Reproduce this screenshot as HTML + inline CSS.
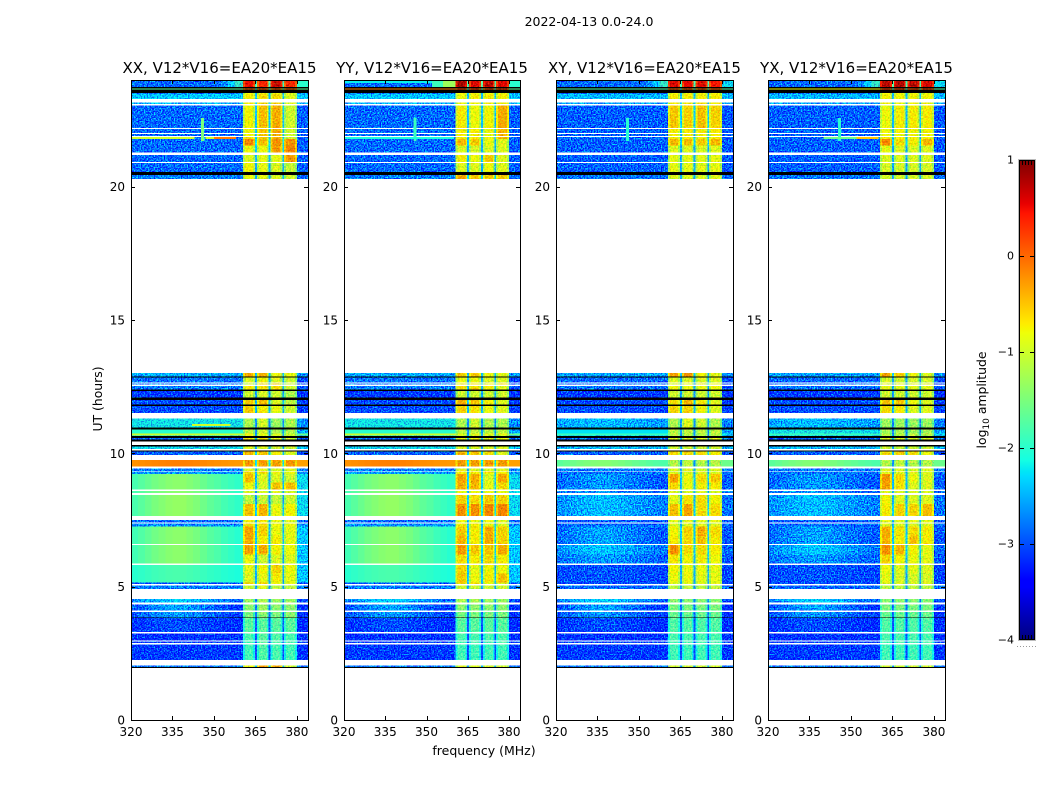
<!DOCTYPE html>
<html lang="en">
<head>
<meta charset="utf-8">
<title>2022-04-13 0.0-24.0</title>
<style>
html,body{margin:0;padding:0;background:#fff;width:1050px;height:800px;overflow:hidden}
svg{display:block}
text{font-family:"DejaVu Sans","Liberation Sans",sans-serif;fill:#000}
</style>
</head>
<body>
<svg id="chart" xmlns="http://www.w3.org/2000/svg" width="1050" height="800" viewBox="0 0 1050 800">
  <defs>
    <filter id="grain" filterUnits="userSpaceOnUse" x="0" y="0" width="1050" height="800" color-interpolation-filters="sRGB">
      <feTurbulence type="fractalNoise" baseFrequency="0.7" numOctaves="2" seed="4" result="n"/>
      <feColorMatrix in="n" type="matrix" values="0 0 0 0 .5  2.4 0 0 0 -.76  0 0 0 0 .5  0 0 0 0 1" result="c"/>
      <feComposite in="SourceGraphic" in2="c" operator="arithmetic" k1="0" k2="1" k3="1" k4="-.5" result="m"/>
      <feComposite in="m" in2="SourceAlpha" operator="in"/>
    </filter>
    <filter id="grainBand" filterUnits="userSpaceOnUse" x="0" y="0" width="1050" height="800" color-interpolation-filters="sRGB">
      <feTurbulence type="fractalNoise" baseFrequency="0.6" numOctaves="2" seed="9" result="n"/>
      <feColorMatrix in="n" type="matrix" values="1 0 0 0 0  0 .7 0 0 .15  0 0 0 0 .5  0 0 0 0 1" result="c"/>
      <feComposite in="SourceGraphic" in2="c" operator="arithmetic" k1="0" k2="1" k3="1" k4="-.5" result="m"/>
      <feComposite in="m" in2="SourceAlpha" operator="in"/>
    </filter>
  </defs>
  <text x="589" y="26" font-size="12.5" text-anchor="middle">2022-04-13 0.0-24.0</text>
  <text x="0" y="0" font-size="12.4" text-anchor="middle" transform="translate(102,399) rotate(-90)">UT (hours)</text>
  <text x="484" y="755" font-size="12.5" text-anchor="middle">frequency (MHz)</text>
  <text x="0" y="0" font-size="12.4" text-anchor="middle" transform="translate(986,400) rotate(-90)">log<tspan dy="3" font-size="9">10</tspan><tspan dy="-3"> amplitude</tspan></text>
</svg>
<script>
// ---- Axis data
const panelTitles = ["XX, V12*V16=EA20*EA15","YY, V12*V16=EA20*EA15","XY, V12*V16=EA20*EA15","YX, V12*V16=EA20*EA15"];
const xTicks = [320,335,350,365,380];
const yTicks = [0,5,10,15,20];
const colorTicks = [-4,-3,-2,-1,0,1];

// ---- Frequency structure (MHz)
const bgFreqEdges = [320,322.5,325,327.5,330,332.5,335,337.5,340,342.5,345,347.5,350,352.5,355,357.5,360.5];
const bumpShape = [.3,.45,.6,.75,.85,.95,1,1,.9,.8,.65,.5,.4,.25,.15,.05];
const rampShape = [0,0,0,0,0,0,0,0,0,0,0,0,0,.2,.5,.85];
const bandFreqEdges = [[360.5,364.8],[365.5,369.8],[370.5,374.8],[375.3,380]];
const gapFreqEdges = [[364.8,365.5],[369.8,370.5],[374.8,375.3]];
const edgeFreqRange = [380,384];

// ---- Time bins (UT hours): [top, bottom]
const dataBins = [
[24,23.74],[23.68,23.64],[23.52,23.47],[23.47,23.28],[23.15,23.1],[23.04,22.2],[22.16,22.01],[21.97,21.9],[21.86,21.79],[21.79,21.55],
[21.55,21.28],[21.19,20.93],[20.89,20.55],[20.43,20.29],[13.01,12.89],[12.85,12.66],[12.62,12.58],[12.52,12.4],[12.34,12.1],[12,11.83],
[11.77,11.51],[11.31,10.97],[10.9,10.75],[10.75,10.67],[10.67,10.65],[10.57,10.52],[10.26,10.16],[10.07,9.94],[9.75,9.5],[9.44,9.34],
[9.31,9.22],[9.22,8.9],[8.9,8.65],[8.59,8.52],[8.44,8.1],[8.1,7.65],[7.5,7.4],[7.37,7.25],[7.25,6.9],[6.9,6.6],
[6.56,6.2],[6.2,5.87],[5.82,5.5],[5.5,5.15],[5.15,5.1],[5.05,4.91],[4.54,4.4],[4.34,4.11],[4.05,3.85],[3.82,3.3],
[3.24,2.98],[2.94,2.88],[2.84,2.25],[2.05,1.99]];
const blackBins = [[23.74,23.68],[23.64,23.52],[20.55,20.43],[12.89,12.85],[12.4,12.34],[12.1,12],[11.83,11.77],[10.97,10.9],[10.65,10.57],[10.52,10.45],[10.31,10.26],[10.1,10.07],[3.85,3.82],[1.99,1.95]];

// ---- Background log10 amplitude per data bin: [level, bump, right edge, ramp]
const parallelBg = [
[-2.8,0,-2,1],[-1.7,0,-1.7,0],[-2.7,0,-2.5,0],[-2.3,0,-2.3,0],[-2.4,0,-2.4,0],[-2.8,0,-2.85,0],[-2.8,0,-2.85,0],[-2.8,0,-2.85,0],[-2.75,0,-2.85,0],[-2.8,0,-2.85,0],
[-2.8,0,-2.85,0],[-2.8,0,-2.85,0],[-2.8,0,-2.85,0],[-2.7,0,-2.8,0],[-2.45,0,-2.6,0],[-2.75,0,-2.95,0],[-2.7,0,-2.9,0],[-2.7,0,-2.9,0],[-3.05,0,-3.1,0],[-2.95,0,-3.05,0],
[-2.95,0,-3,0],[-2.15,0,-2.6,0],[-2,0,-2.5,0],[-1,0,-1.6,0],[-2.2,0,-2.5,0],[-2.8,0,-2.8,0],[-2.2,0,-2.3,0],[-2.85,0,-2.95,0],[-.27,.15,-.3,0],[-2.7,0,-2.7,0],
[-2.55,0,-2.55,0],[-2,.6,-2.2,0],[-2,.6,-2.2,0],[-2,.6,-2.2,0],[-2,.65,-2.2,0],[-2,.65,-2.2,0],[-2.8,0,-2.8,0],[-2.6,0,-2.6,0],[-2.05,.65,-2.3,0],[-2.05,.65,-2.3,0],
[-2.05,.65,-2.3,0],[-2.05,.65,-2.3,0],[-2.1,.3,-2.3,0],[-2.1,.3,-2.3,0],[-2.9,0,-2.9,0],[-2.7,0,-2.7,0],[-2.85,.6,-2.95,0],[-3.1,.6,-3.1,0],[-3.05,.5,-3.1,0],[-3.15,.2,-3.15,0],
[-3.1,0,-3.1,0],[-3,0,-3,0],[-3.05,0,-3.1,0],[-2.7,0,-2.7,0]];
const crossBg = [
[-2.8,0,-2.2,1],[-1.8,0,-1.8,0],[-2.7,0,-2.5,0],[-2.4,0,-2.4,0],[-2.5,0,-2.5,0],[-2.85,0,-2.9,0],[-2.85,0,-2.9,0],[-2.85,0,-2.9,0],[-2.8,0,-2.9,0],[-2.85,0,-2.9,0],
[-2.85,0,-2.9,0],[-2.85,0,-2.9,0],[-2.85,0,-2.9,0],[-2.75,0,-2.8,0],[-2.5,0,-2.6,0],[-2.8,0,-2.95,0],[-2.75,0,-2.9,0],[-2.75,0,-2.9,0],[-3.05,0,-3.1,0],[-2.95,0,-3.05,0],
[-2.95,0,-3,0],[-2.55,.2,-2.7,0],[-2.2,.1,-2.5,0],[-1.9,0,-2.2,0],[-2.4,0,-2.6,0],[-2.8,0,-2.8,0],[-2.4,0,-2.4,0],[-2.85,0,-2.95,0],[-1.8,.35,-1.6,0],[-2.7,0,-2.7,0],
[-2.75,0,-2.75,0],[-2.9,.35,-2.85,0],[-2.9,.35,-2.85,0],[-2.85,.3,-2.8,0],[-2.7,.35,-2.75,0],[-2.7,.35,-2.75,0],[-2.9,0,-2.9,0],[-2.8,0,-2.8,0],[-2.9,.4,-2.9,0],[-2.9,.4,-2.9,0],
[-2.75,.45,-2.8,0],[-2.85,.3,-2.9,0],[-3,.1,-3,0],[-3,.1,-3,0],[-2.95,0,-2.95,0],[-2.8,0,-2.8,0],[-2.85,.6,-2.95,0],[-3.1,.6,-3.1,0],[-3.05,.5,-3.1,0],[-3.15,.2,-3.15,0],
[-3.1,0,-3.1,0],[-3,0,-3,0],[-3.05,0,-3.1,0],[-2.7,0,-2.7,0]];

// ---- Sub-band log10 amplitude per data bin: [A, B, C, D]
const bandsXX = [
[.5,.35,.7,.35],[.1,.1,.1,.1],[-.8,-.8,-.8,-.9],[-.7,-.6,-.6,-.9],[-.7,-.6,-.6,-.9],[-.75,-.45,-.35,-1],[-.75,-.5,-.35,-1],[-.75,-.5,-.35,-1],[-.6,-.5,-.35,-1],[-.15,-.45,-.2,-.2],
[-.8,-.8,-.25,-.15],[-.9,-.85,-.85,-.25],[-.75,-.85,-.9,-1.05],[-.8,-.85,-.9,-1],[-.35,-.4,-.8,-.8],[-.9,-.75,-.9,-1],[-.9,-.5,-.6,-1],[-.7,-.6,-.6,-1],[-1,-.95,-1,-1.2],[-.5,-.45,-.9,-1.1],
[-.5,-.7,-.8,-1],[-1.2,-.95,-1.3,-1.2],[-1.1,-1,-1.2,-1.2],[-.8,-.8,-.9,-1],[-1,-1,-1,-1],[-.7,-.7,-.9,-1],[-.9,-.9,-1,-1],[-.4,-.45,-.7,-.9],[-.27,-.27,-.27,-.27],[-.9,-.9,-.9,-.9],
[-.6,-.6,-.8,-.8],[-.45,-.9,-.9,-1],[-.8,-.95,-.45,-.45],[-.9,-.9,-.9,-.9],[-1.1,-1.05,-1.05,-1],[-.45,-.4,-.8,-.75],[-.7,-.7,-.8,-.9],[-.6,-.6,-.8,-.8],[-.3,-.55,-.8,-.85],[-.35,-.7,-.7,-.85],
[-.3,-.35,-.75,-.8],[-.8,-1,-.9,-.9],[-.85,-.75,-.55,-.8],[-.9,-.85,-.7,-.85],[-.5,-.5,-.8,-.9],[-1,-.9,-1.1,-1.1],[-1.3,-1.2,-1.3,-1.3],[-1.4,-1.3,-1.4,-1.4],[-1.5,-1.4,-1.5,-1.4],[-1.7,-1.7,-1.7,-1.7],
[-1.8,-1.7,-1.75,-1.8],[-1.8,-1.7,-1.75,-1.8],[-1.85,-1.75,-1.8,-1.85],[-.8,-.3,-.3,-1]];
const bandsYY = [
[.85,.6,.75,.6],[.2,.2,.2,.2],[-.8,-.8,-.8,-.8],[-.8,-.7,-.7,-.7],[-.8,-.7,-.7,-.7],[-.7,-.8,-.75,-.35],[-.7,-.7,-.8,-.4],[-.7,-.7,-.8,-.4],[-.7,-.7,-.8,-.4],[-.4,-.5,-.8,-.9],
[-.9,-.95,-.9,-.9],[-.7,-.8,-.5,-.9],[-.9,-.9,-.8,-.9],[-.3,-.5,-.5,-.5],[-.5,-.45,-.8,-.85],[-.8,-.8,-.9,-.9],[-.7,-.7,-.7,-.7],[-.6,-.6,-.7,-.9],[-1,-1,-1,-1],[-.35,-.5,-.7,-.9],
[-.55,-.65,-.8,-.9],[-1.2,-1,-1.2,-1.2],[-1.1,-1.1,-1.1,-1.1],[-.85,-.85,-.85,-.85],[-1.1,-1.1,-1.1,-1.1],[-.8,-.8,-.8,-.8],[-.9,-.9,-.9,-.9],[-.4,-.5,-.6,-.9],[-.27,-.27,-.27,-.27],[-.9,-.9,-.9,-.9],
[-.7,-.7,-.7,-.7],[-.3,-.35,-.9,-.35],[-.35,-.4,-.85,-.6],[-.8,-.8,-.8,-.8],[-.55,-.6,-.5,-.55],[-.2,-.2,-.15,-.15],[-.8,-.8,-.8,-.9],[-.7,-.7,-.8,-.9],[-.5,-.7,-.35,-.55],[-.4,-.7,-.35,-.55],
[-.25,-.5,-.5,-.35],[-.6,-.7,-.6,-.7],[-.55,-.85,-.75,-.8],[-.5,-.8,-.7,-.45],[-.6,-.6,-.8,-.9],[-1,-1,-1,-1],[-1.2,-1.2,-1.3,-1.3],[-1.4,-1.4,-1.4,-1.4],[-1.5,-1.5,-1.5,-1.5],[-1.7,-1.7,-1.7,-1.7],
[-1.8,-1.8,-1.8,-1.8],[-1.8,-1.8,-1.8,-1.8],[-1.85,-1.85,-1.85,-1.85],[-.9,-.9,-.95,-1]];
const bandsXY = [
[.6,.55,.6,.45],[.1,.1,.1,.1],[-.8,-.8,-.8,-.8],[-.7,-.7,-.7,-.7],[-.7,-.7,-.7,-.7],[-.5,-.55,-.45,-.55],[-.7,-.7,-.7,-.7],[-.7,-.7,-.7,-.7],[-.7,-.7,-.7,-.7],[-.4,-.45,-.5,-.4],
[-.9,-.9,-.9,-.9],[-.85,-.85,-.85,-.85],[-.85,-.85,-.85,-.85],[-.9,-.9,-.9,-.9],[-.3,-.25,-.75,-.85],[-.9,-.9,-.9,-.9],[-.8,-.8,-.8,-.8],[-.8,-.8,-.8,-.8],[-1,-1,-1,-1],[-.6,-.4,-.7,-.9],
[-.55,-.55,-.75,-.9],[-1.2,-.9,-1,-1.2],[-1.1,-1.1,-1.1,-1.1],[-1.1,-1.1,-1.1,-1.1],[-1.2,-1.2,-1.2,-1.2],[-.9,-.9,-.9,-.9],[-1,-1,-1,-1],[-.6,-.55,-.6,-.7],[-1.15,-1.1,-1.15,-1.15],[-.9,-.9,-.9,-.9],
[-.9,-.9,-.9,-.9],[-.3,-.8,-.6,-.5],[-.6,-.8,-.7,-.7],[-.9,-.9,-.9,-.9],[-.85,-.65,-.6,-.75],[-.45,-.3,-.6,-.6],[-.85,-.85,-.85,-.85],[-.9,-.9,-.9,-.9],[-.75,-.55,-.35,-.6],[-.7,-.6,-.45,-.7],
[-.2,-.6,-.6,-.7],[-.65,-.75,-.7,-.8],[-.75,-.8,-.8,-.85],[-.8,-.8,-.85,-.85],[-.9,-.9,-.9,-.9],[-1.1,-1.1,-1.1,-1.1],[-1.4,-1.4,-1.4,-1.4],[-1.5,-1.5,-1.5,-1.5],[-1.6,-1.6,-1.6,-1.6],[-1.75,-1.75,-1.75,-1.75],
[-1.8,-1.8,-1.8,-1.8],[-1.8,-1.8,-1.8,-1.8],[-1.85,-1.85,-1.85,-1.85],[-1,-1,-1,-1]];
const bandsYX = [
[.75,.8,.75,.65],[.2,.2,.2,.2],[-.8,-.8,-.8,-.8],[-.75,-.75,-.75,-.75],[-.75,-.75,-.75,-.75],[-.8,-.7,-.7,-.7],[-.8,-.75,-.75,-.75],[-.8,-.75,-.75,-.75],[-.7,-.75,-.75,-.75],[-.15,-.6,-.7,-.4],
[-.85,-.9,-.9,-.9],[-.9,-.9,-.9,-.9],[-.95,-.95,-.95,-.95],[-.95,-.95,-.95,-.95],[-.3,-.5,-.8,-.9],[-.95,-.95,-.95,-.95],[-.85,-.85,-.85,-.85],[-.85,-.85,-.85,-.85],[-1,-1,-1,-1],[-.45,-.5,-.8,-.9],
[-.6,-.7,-.9,-.9],[-1.3,-1.3,-1.3,-1.3],[-1.25,-1.25,-1.25,-1.25],[-1.1,-1.1,-1.1,-1.1],[-1.2,-1.2,-1.2,-1.2],[-.9,-.9,-.9,-.9],[-1,-1,-1,-1],[-.6,-.55,-.6,-.8],[-1.15,-1.1,-1.15,-1.15],[-.9,-.9,-.9,-.9],
[-.9,-.9,-.9,-.9],[-.25,-.6,-.8,-.9],[-.3,-.65,-.9,-.9],[-.9,-.9,-.9,-.9],[-.75,-.9,-.9,-.9],[-.7,-.55,-.55,-.45],[-.85,-.85,-.85,-.85],[-.9,-.9,-.9,-.9],[-.35,-.65,-.6,-.7],[-.4,-.7,-.45,-.7],
[-.2,-.4,-.75,-.85],[-.55,-.75,-.8,-.85],[-.8,-.9,-.85,-.9],[-.85,-.95,-.95,-.95],[-.9,-.9,-.9,-.9],[-1.1,-1.1,-1.1,-1.1],[-1.4,-1.4,-1.4,-1.4],[-1.5,-1.5,-1.5,-1.5],[-1.6,-1.6,-1.6,-1.6],[-1.75,-1.75,-1.75,-1.75],
[-1.8,-1.8,-1.8,-1.8],[-1.8,-1.8,-1.8,-1.8],[-1.85,-1.85,-1.85,-1.85],[-1,-1,-1,-1]];

// ---- Narrow RFI features: [panel, f0, f1, utTop, utBottom, level]
const rfiFeatures = [
[0,345.3,346.4,22.58,21.71,-1.5],[1,345.3,346.4,22.58,21.71,-1.9],[2,345.3,346.4,22.58,21.71,-2],[3,345.3,346.4,22.58,21.71,-2],
[0,320,343,21.86,21.79,-1],[0,347,350,21.86,21.79,-1],[0,350,358,21.86,21.79,-.1],[1,320,360,21.86,21.79,-2.1],[3,340,352,21.86,21.79,-1.6],[3,352,360,21.86,21.79,-.5],
[0,342,356,11.1,11.03,-1],
[1,320,352,24,23.88,-2.2],[1,352,356,24,23.74,-1.9],[1,356,360.5,24,23.74,-1.3],[1,320,360.5,23.68,23.64,-.1],[3,320,360.5,23.68,23.64,-.8],
[2,320,360.5,10.9,10.75,-2.25]];

// ---- Jet colormap anchors
const jetRed = [[0,0],[.35,0],[.66,1],[.89,1],[1,.5]];
const jetGreen = [[0,0],[.125,0],[.375,1],[.64,1],[.91,0],[1,0]];
const jetBlue = [[0,.5],[.11,1],[.34,1],[.65,0],[1,0]];
const colorStops = [0,.05,.11,.125,.2,.3,.34,.35,.375,.45,.5,.55,.6,.64,.65,.66,.7,.75,.8,.85,.89,.91,.95,1];

const SVG_NS = "http://www.w3.org/2000/svg";
const svg = document.getElementById("chart");
const panelLeft = [131,344,556,768];
const panelWidth = [177,176,177,177];
const plotTop = 80, plotBottom = 720;
const allBands = [bandsXX,bandsYY,bandsXY,bandsYX];

function xScale(f, p){ return panelLeft[p] + (f - 320) / 64 * panelWidth[p]; }
function yScale(u){ return plotBottom - u / 24 * (plotBottom - plotTop); }
function cScale(v){ return 640 - (v + 4) / 5 * 480; }
function interp(a, t){
  for (let i = 1; i < a.length; i++) {
    if (t <= a[i][0]) return a[i-1][1] + (a[i][1] - a[i-1][1]) * (t - a[i-1][0]) / (a[i][0] - a[i-1][0]);
  }
  return a[a.length-1][1];
}
function jetColor(t){
  t = Math.max(0, Math.min(1, t));
  return "rgb(" + Math.round(255*interp(jetRed,t)) + "," + Math.round(255*interp(jetGreen,t)) + "," + Math.round(255*interp(jetBlue,t)) + ")";
}
function colorOf(v){ return jetColor((v + 4) / 5); }
function mk(tag, attrs, parent){
  const el = document.createElementNS(SVG_NS, tag);
  for (const k in attrs) el.setAttribute(k, attrs[k]);
  (parent || svg).appendChild(el);
  return el;
}
function cell(g, f0, f1, u0, u1, p, fill){
  const x0 = xScale(f0, p), x1 = xScale(f1, p), y0 = yScale(u0), y1 = yScale(u1);
  return mk("rect", {x:x0, y:y0, width:x1-x0, height:y1-y0, fill:fill, "shape-rendering":"crispEdges"}, g);
}

panelTitles.forEach(function(title, p){
  const panel = mk("g", {});
  
  
  const bg = p < 2 ? parallelBg : crossBg;
  const bands = allBands[p];
  const smoothGroup = mk("g", {}, panel);
  
  
  const grainGroup = mk("g", {filter:"url(#grain)"}, panel);
  
  
  const bandGroup = mk("g", {filter:"url(#grainBand)"}, panel);
  
  

  dataBins.forEach(function(bin, r){
    const row = bg[r];
    const bgGroup = row[0] < -2.1 ? grainGroup : smoothGroup;
    for (let c = 0; c < bumpShape.length; c++) {
      const v = row[0] + row[1] * bumpShape[c] + row[3] * rampShape[c];
      const el = cell(bgGroup, bgFreqEdges[c], bgFreqEdges[c+1], bin[0], bin[1], p, colorOf(v));
      
      
    }
    bandFreqEdges.forEach(function(edge, b){
      const v = bands[r][b];
      const left = cell(bandGroup, edge[0], edge[0] + .7, bin[0], bin[1], p, colorOf(v - .35));
      
      
      const centre = cell(bandGroup, edge[0] + .7, edge[1] - .7, bin[0], bin[1], p, colorOf(v));
      
      
      const right = cell(bandGroup, edge[1] - .7, edge[1], bin[0], bin[1], p, colorOf(v - .35));
      
      
    });
    const mean = (bands[r][0] + bands[r][1] + bands[r][2] + bands[r][3]) / 4;
    gapFreqEdges.forEach(function(edge){
      const el = cell(bandGroup, edge[0], edge[1], bin[0], bin[1], p, colorOf(mean * .5 - 2.1));
      
      
    });
    const edgeCell = cell(row[2] < -2.1 ? grainGroup : smoothGroup, edgeFreqRange[0], edgeFreqRange[1], bin[0], bin[1], p, colorOf(row[2]));
    
    
  });

  rfiFeatures.forEach(function(ft){
    if (ft[0] !== p) return;
    const el = cell(panel, ft[1], ft[2], ft[3], ft[4], p, colorOf(ft[5]));
    
    
  });
  blackBins.forEach(function(bin){
    const el = cell(panel, 320, 384, bin[0], bin[1], p, "#000");
    
    
  });

  const L = panelLeft[p], R = L + panelWidth[p];
  const frame = mk("rect", {x:L+.5, y:plotTop+.5, width:panelWidth[p], height:plotBottom-plotTop, fill:"none", stroke:"#000", "stroke-width":1}, panel);
  
  

  xTicks.forEach(function(f){
    const x = Math.round(xScale(f, p)) + .5;
    const t1 = mk("line", {x1:x, x2:x, y1:plotBottom, y2:plotBottom-4, stroke:"#000"}, panel);
    
    
    const t2 = mk("line", {x1:x, x2:x, y1:plotTop, y2:plotTop+4, stroke:"#000"}, panel);
    
    
    const lab = mk("text", {x:xScale(f, p), y:plotBottom+16, "font-size":12, "text-anchor":"middle"}, panel);
    
    
    lab.textContent = f;
  });
  yTicks.forEach(function(u){
    const y = Math.round(yScale(u)) + .5;
    const t1 = mk("line", {x1:L, x2:L+4, y1:y, y2:y, stroke:"#000"}, panel);
    
    
    const t2 = mk("line", {x1:R, x2:R-4, y1:y, y2:y, stroke:"#000"}, panel);
    
    
    const lab = mk("text", {x:L-6, y:yScale(u)+4.5, "font-size":12, "text-anchor":"end"}, panel);
    
    
    lab.textContent = u;
  });
  const tt = mk("text", {x:L+panelWidth[p]/2, y:73, "font-size":15, "text-anchor":"middle"}, panel);
  
  
  tt.textContent = title;
});

// ---- Colorbar
const defs = svg.querySelector("defs");
const grad = mk("linearGradient", {id:"jet", x1:0, y1:1, x2:0, y2:0}, defs);
colorStops.forEach(function(s){
  mk("stop", {offset:s, "stop-color":jetColor(s)}, grad);
});
const cbar = mk("g", {});


const cbOuter = mk("rect", {x:1018.5, y:159.5, width:17, height:481, fill:"none", stroke:"#bbb"}, cbar);


const cbFill = mk("rect", {x:1019.5, y:160.5, width:15, height:479, fill:"url(#jet)", stroke:"#000"}, cbar);


colorTicks.forEach(function(v){
  const y = Math.round(cScale(v)) + .5;
  if (v > -4 && v < 1) {
    const t1 = mk("line", {x1:1019, x2:1024, y1:y, y2:y, stroke:"#000"}, cbar);
    
    
    const t2 = mk("line", {x1:1030, x2:1035, y1:y, y2:y, stroke:"#000"}, cbar);
    
    
  }
  const lab = mk("text", {x:1014, y:cScale(v)+3.5, "font-size":11, "text-anchor":"end"}, cbar);
  
  
  lab.textContent = v < 0 ? "\u2212" + Math.abs(v) : String(v);
});
[1022.5,1025.5,1028.5,1031.5].forEach(function(x){
  const top = mk("line", {x1:x, x2:x, y1:160, y2:165, stroke:"#000"}, cbar);
  
  
  const bottom = mk("line", {x1:x, x2:x, y1:635, y2:640, stroke:"#000"}, cbar);
  
  
});
const dots = mk("line", {x1:1017, x2:1036, y1:646.5, y2:646.5, stroke:"#999", "stroke-dasharray":"1 2"}, cbar);


</script>
</body>
</html>
